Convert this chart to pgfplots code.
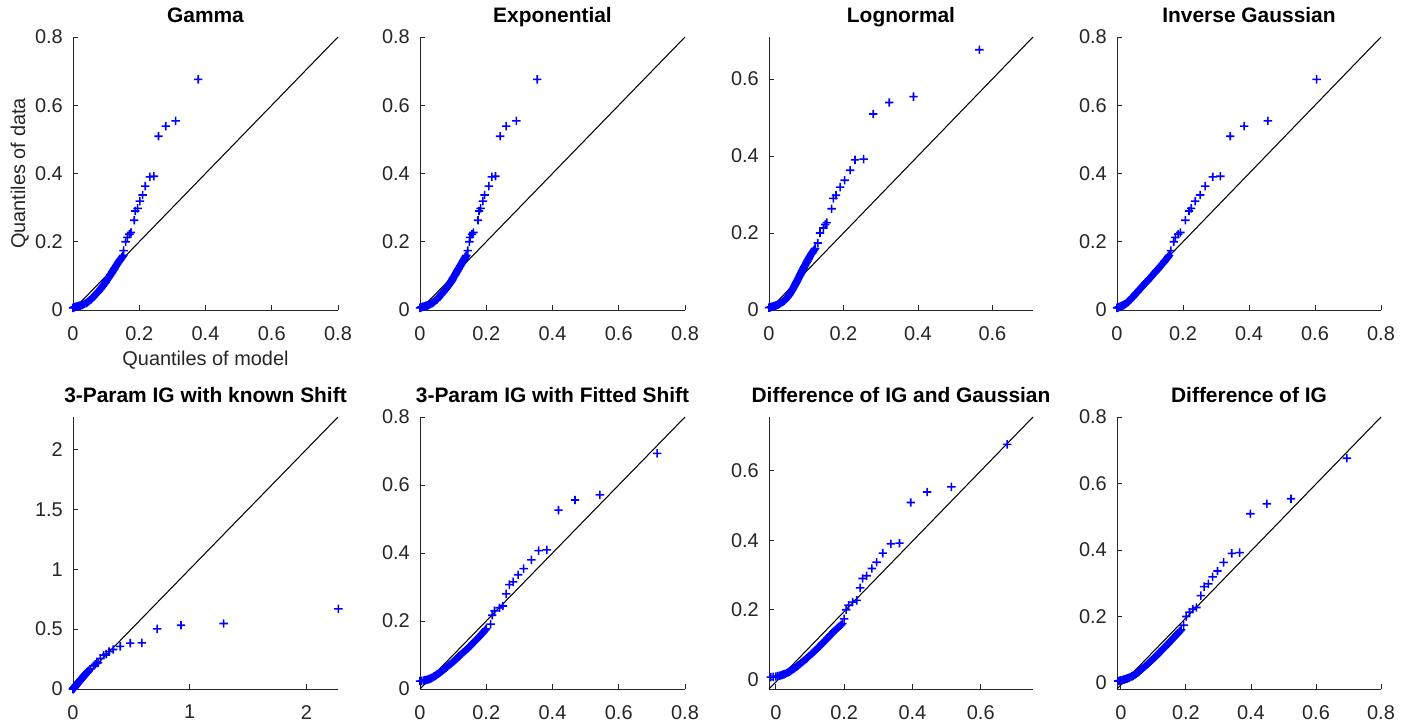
\documentclass[border=0pt]{standalone}
\usepackage{pgfplots}
\pgfplotsset{compat=1.18}
\usepackage{pgfplotstable}
\usepackage{fontspec}
\setmainfont{Liberation Sans}
\definecolor{mgray}{rgb}{0.15,0.15,0.15}
\definecolor{mblue}{rgb}{0,0,1}

\pgfdeclareplotmark{bplus}{%
  \pgfsetfillcolor{mblue}%
  \pgfpathrectangle{\pgfqpoint{-\pgfplotmarksize}{-0.8bp}}{\pgfqpoint{2\pgfplotmarksize}{1.6bp}}%
  \pgfpathrectangle{\pgfqpoint{-0.8bp}{-\pgfplotmarksize}}{\pgfqpoint{1.6bp}{2\pgfplotmarksize}}%
  \pgfusepathqfill}

% y: data quantiles; x1..x8: model quantiles per panel; y5, y6: shifted data for panels 5 and 6
\pgfplotstableread{
y x1 x2 x3 x4 x5 y5 x6 y6 x7 x8
0.006 0.000 0.000 0.000 0.000 0.000 -0.001 0.000 0.023 -0.015 -0.008
0.007 0.002 0.002 0.003 0.0025 0.0008 0.000 0.005 0.024 -0.0075 -0.004
0.008 0.004 0.004 0.006 0.005 0.0015 0.001 0.010 0.025 0.000 0.000
0.009 0.007 0.007 0.0095 0.0075 0.0023 0.002 0.015 0.026 0.005 0.004
0.010 0.010 0.010 0.013 0.010 0.003 0.003 0.020 0.027 0.010 0.008
0.011 0.014 0.014 0.016 0.0125 0.004 0.004 0.0233 0.028 0.0133 0.0113
0.012 0.018 0.018 0.019 0.015 0.005 0.005 0.0267 0.029 0.0167 0.0147
0.013 0.0213 0.021 0.0213 0.017 0.006 0.006 0.030 0.030 0.020 0.018
0.014 0.025 0.024 0.0237 0.019 0.007 0.007 0.032 0.031 0.0225 0.0205
0.015 0.028 0.027 0.026 0.021 0.008 0.008 0.034 0.032 0.025 0.023
0.016 0.0304 0.029 0.028 0.0226 0.0088 0.009 0.036 0.033 0.0275 0.0255
0.018 0.035 0.033 0.032 0.0258 0.0104 0.011 0.040 0.035 0.032 0.030
0.020 0.040 0.037 0.036 0.029 0.012 0.013 0.043 0.037 0.036 0.034
0.022 0.0426 0.0396 0.0382 0.0312 0.0136 0.015 0.046 0.039 0.040 0.038
0.024 0.045 0.042 0.0404 0.0334 0.0152 0.017 0.049 0.041 0.043 0.041
0.026 0.048 0.045 0.0426 0.0356 0.0168 0.019 0.052 0.043 0.046 0.044
0.028 0.050 0.047 0.0448 0.0378 0.0184 0.021 0.055 0.045 0.049 0.047
0.030 0.053 0.050 0.047 0.040 0.020 0.023 0.0577 0.047 0.052 0.050
0.032 0.055 0.0518 0.0486 0.042 0.0216 0.025 0.0603 0.049 0.0547 0.0524
0.034 0.057 0.0536 0.0502 0.044 0.0232 0.027 0.063 0.051 0.0573 0.0548
0.036 0.059 0.0554 0.0518 0.046 0.0248 0.029 0.0657 0.053 0.060 0.0572
0.038 0.061 0.0572 0.0534 0.048 0.0264 0.031 0.0683 0.055 0.0627 0.0596
0.040 0.063 0.059 0.055 0.050 0.028 0.033 0.071 0.057 0.0653 0.062
0.043 0.0659 0.0617 0.0568 0.0527 0.0306 0.036 0.075 0.060 0.0693 0.0656
0.046 0.0687 0.0644 0.0586 0.0554 0.0331 0.039 0.0788 0.063 0.0732 0.0693
0.049 0.0716 0.0671 0.0604 0.0581 0.0357 0.042 0.0825 0.066 0.0768 0.0727
0.052 0.0744 0.0698 0.0622 0.0608 0.0382 0.045 0.0863 0.069 0.0804 0.0761
0.055 0.0773 0.0725 0.064 0.0635 0.0408 0.048 0.090 0.072 0.084 0.0795
0.058 0.0801 0.0752 0.0658 0.0662 0.0433 0.051 0.0938 0.075 0.0876 0.0827
0.061 0.0828 0.0778 0.0676 0.069 0.0459 0.054 0.0975 0.078 0.0911 0.0861
0.064 0.085 0.080 0.0692 0.0718 0.0484 0.057 0.1011 0.081 0.0944 0.0894
0.067 0.0873 0.0823 0.0709 0.0747 0.051 0.060 0.1044 0.084 0.0977 0.0927
0.070 0.0895 0.0845 0.0725 0.0775 0.0535 0.063 0.1077 0.087 0.101 0.096
0.073 0.0918 0.0868 0.0742 0.0804 0.0561 0.066 0.111 0.090 0.1043 0.0993
0.076 0.094 0.089 0.0758 0.0832 0.0586 0.069 0.1143 0.093 0.1076 0.1026
0.079 0.0963 0.0913 0.0775 0.0861 0.0612 0.072 0.1176 0.096 0.1109 0.1059
0.082 0.0984 0.0932 0.079 0.0889 0.0638 0.075 0.1209 0.099 0.1141 0.109
0.085 0.1005 0.095 0.0805 0.0918 0.0665 0.078 0.1243 0.102 0.1173 0.112
0.088 0.1026 0.0968 0.082 0.0946 0.0692 0.081 0.1278 0.105 0.1204 0.115
0.091 0.1047 0.0986 0.0835 0.0975 0.0719 0.084 0.1312 0.108 0.1236 0.118
0.094 0.1068 0.1004 0.085 0.1003 0.0746 0.087 0.1347 0.111 0.1267 0.121
0.097 0.1089 0.1022 0.0865 0.1032 0.0773 0.090 0.1381 0.114 0.1299 0.124
0.100 0.111 0.104 0.088 0.106 0.080 0.093 0.1416 0.117 0.133 0.127
0.103 0.113 0.1058 0.0897 0.1087 0.0827 0.096 0.145 0.120 0.136 0.130
0.106 0.1149 0.1076 0.0913 0.1114 0.0854 0.099 0.148 0.123 0.139 0.133
0.109 0.1169 0.1094 0.093 0.1141 0.0881 0.102 0.151 0.126 0.142 0.136
0.112 0.1188 0.1112 0.0946 0.1168 0.0908 0.105 0.154 0.129 0.145 0.139
0.115 0.1208 0.113 0.0963 0.1195 0.0935 0.108 0.157 0.132 0.148 0.142
0.118 0.1227 0.1148 0.0979 0.1222 0.0962 0.111 0.160 0.135 0.151 0.145
0.121 0.1247 0.1166 0.0996 0.1249 0.0989 0.114 0.163 0.138 0.154 0.148
0.124 0.1266 0.1184 0.1012 0.1276 0.1014 0.117 0.166 0.141 0.1568 0.1508
0.127 0.1286 0.1202 0.1029 0.1303 0.104 0.120 0.169 0.144 0.1597 0.1537
0.130 0.1305 0.122 0.1045 0.133 0.1065 0.123 0.172 0.147 0.1625 0.1565
0.133 0.1325 0.1238 0.1062 0.1357 0.1091 0.126 0.175 0.150 0.1654 0.1594
0.136 0.1344 0.1256 0.1078 0.1384 0.1116 0.129 0.178 0.153 0.1682 0.1622
0.139 0.1364 0.1274 0.1095 0.1411 0.1142 0.132 0.181 0.156 0.1711 0.1651
0.142 0.1385 0.1292 0.1114 0.1436 0.117 0.135 0.184 0.159 0.1743 0.1679
0.145 0.1408 0.131 0.1135 0.146 0.120 0.138 0.1868 0.162 0.1778 0.1708
0.148 0.143 0.1328 0.1156 0.1484 0.123 0.141 0.1894 0.165 0.1812 0.1736
0.151 0.1453 0.1346 0.1177 0.1508 0.126 0.144 0.1921 0.168 0.1847 0.1765
0.154 0.1475 0.1364 0.1198 0.1532 0.129 0.147 0.1947 0.171 0.1881 0.1793
0.157 0.1498 0.1382 0.1219 0.1556 0.132 0.150 0.1974 0.174 0.1916 0.1822
0.160 0.152 0.140 0.124 0.158 0.135 0.153 0.200 0.177 0.195 0.185
0.174 0.153 0.144 0.131 0.163 0.150 0.167 0.213 0.191 0.200 0.193
0.200 0.159 0.149 0.137 0.172 0.175 0.193 0.218 0.217 0.206 0.201
0.213 0.164 0.151 0.146 0.177 0.190 0.206 0.225 0.230 0.213 0.211
0.222 0.170 0.157 0.151 0.185 0.205 0.215 0.240 0.239 0.225 0.221
0.227 0.175 0.161 0.155 0.192 0.215 0.220 0.250 0.244 0.237 0.232
0.263 0.185 0.175 0.168 0.207 0.235 0.256 0.260 0.280 0.247 0.246
0.290 0.188 0.178 0.173 0.218 0.262 0.283 0.270 0.307 0.254 0.256
0.298 0.195 0.183 0.180 0.225 0.285 0.291 0.281 0.315 0.266 0.269
0.319 0.202 0.190 0.191 0.237 0.308 0.312 0.296 0.336 0.281 0.282
0.337 0.210 0.195 0.203 0.252 0.345 0.330 0.313 0.354 0.295 0.297
0.363 0.218 0.208 0.218 0.267 0.405 0.356 0.336 0.380 0.313 0.316
0.390 0.232 0.217 0.231 0.290 0.490 0.383 0.358 0.407 0.337 0.341
0.392 0.244 0.228 0.254 0.313 0.590 0.385 0.383 0.409 0.362 0.365
0.509 0.258 0.242 0.280 0.343 0.720 0.502 0.418 0.526 0.395 0.398
0.539 0.280 0.260 0.323 0.385 0.925 0.532 0.468 0.556 0.443 0.449
0.554 0.310 0.291 0.388 0.457 1.290 0.547 0.543 0.571 0.514 0.523
0.676 0.378 0.354 0.565 0.605 2.273 0.669 0.716 0.693 0.677 0.695
}\qqdata

\pgfplotsset{
  qq/.style={
    scale only axis,
    width=265bp, height=273bp,
    axis lines*=left,
    axis line style={-, mgray, line width=0.9bp},
    tick align=inside,
    major tick length=4.5bp,
    tick style={mgray, line width=0.9bp},
    clip=false,
    /pgf/number format/assume math mode=true,
    ticklabel style={font=\fontsize{20}{24}\selectfont, text=mgray},
    xticklabel style={anchor=north, inner sep=0pt, yshift=-16bp},
    yticklabel style={anchor=east, inner sep=0pt, xshift=-10bp},
    title style={at={(axis description cs:0.5,1)}, anchor=base, yshift=9bp,
                 font=\fontsize{21}{25}\selectfont\bfseries, inner sep=0pt},
    xlabel style={at={(axis description cs:0.5,-0.205)}, anchor=base,
                  font=\fontsize{20}{24}\selectfont, text=mgray, inner sep=0pt},
    ylabel style={at={(axis description cs:-0.181,0.5)}, anchor=base,
                  font=\fontsize{20}{24}\selectfont, text=mgray, inner sep=0pt},
  },
  pts/.style={only marks, mark=bplus, mark size=4.2bp, draw=mblue, fill=mblue, color=mblue},
  ref/.style={black, line width=1.05bp},
  t08/.style={xmin=0, xmax=0.8, ymin=0, ymax=0.8,
              xtick={0,0.2,0.4,0.6,0.8}, ytick={0,0.2,0.4,0.6,0.8}},
}

\begin{document}
\begin{tikzpicture}
\path[use as bounding box] (0,0) rectangle (1412bp,723bp);

% Row 1
\begin{axis}[qq, t08, at={(73bp,413bp)}, anchor=south west,
  title={Gamma}, xlabel={Quantiles of model}, ylabel={Quantiles of data}]
\addplot[pts] table[x=x1, y=y] {\qqdata};
\addplot[ref] coordinates {(0,0) (0.8,0.8)};
\end{axis}

\begin{axis}[qq, t08, at={(420bp,413bp)}, anchor=south west,
  title={Exponential}]
\addplot[pts] table[x=x2, y=y] {\qqdata};
\addplot[ref] coordinates {(0,0) (0.8,0.8)};
\end{axis}

\begin{axis}[qq, at={(769bp,413bp)}, anchor=south west, width=264bp,
  xmin=0, xmax=0.709, ymin=0, ymax=0.709,
  xtick={0,0.2,0.4,0.6}, ytick={0,0.2,0.4,0.6},
  title={Lognormal}]
\addplot[pts] table[x=x3, y=y] {\qqdata};
\addplot[ref] coordinates {(0,0) (0.709,0.709)};
\end{axis}

\begin{axis}[qq, t08, at={(1117bp,413bp)}, anchor=south west, width=264bp,
  title={Inverse Gaussian}]
\addplot[pts] table[x=x4, y=y] {\qqdata};
\addplot[ref] coordinates {(0,0) (0.8,0.8)};
\end{axis}

% Row 2
\begin{axis}[qq, at={(73bp,34bp)}, anchor=south west, height=272bp,
  xmin=0, xmax=2.27, ymin=0, ymax=2.27,
  xtick={0,1,2}, ytick={0,0.5,1,1.5,2},
  title={3-Param IG with known Shift}]
\addplot[pts] table[x=x5, y=y5] {\qqdata};
\addplot[ref] coordinates {(0,0) (2.27,2.27)};
\end{axis}

\begin{axis}[qq, t08, at={(420bp,34bp)}, anchor=south west, height=272bp,
  title={3-Param IG with Fitted Shift}]
\addplot[pts] table[x=x6, y=y6] {\qqdata};
\addplot[ref] coordinates {(0,0) (0.8,0.8)};
\end{axis}

\begin{axis}[qq, at={(769bp,34bp)}, anchor=south west, width=264bp, height=272bp,
  xmin=-0.02, xmax=0.753, ymin=-0.028, ymax=0.755,
  xtick={0,0.2,0.4,0.6}, ytick={0,0.2,0.4,0.6},
  title={Difference of IG and Gaussian}]
\addplot[pts] table[x=x7, y=y] {\qqdata};
\addplot[ref] coordinates {(-0.02,-0.028) (0.753,0.755)};
\end{axis}

\begin{axis}[qq, at={(1117bp,34bp)}, anchor=south west, width=264bp, height=272bp,
  xmin=-0.012, xmax=0.8, ymin=-0.018, ymax=0.8,
  xtick={0,0.2,0.4,0.6,0.8}, ytick={0,0.2,0.4,0.6,0.8},
  title={Difference of IG}]
\addplot[pts] table[x=x8, y=y] {\qqdata};
\addplot[ref] coordinates {(-0.012,-0.018) (0.8,0.8)};
\end{axis}

\end{tikzpicture}
\end{document}
